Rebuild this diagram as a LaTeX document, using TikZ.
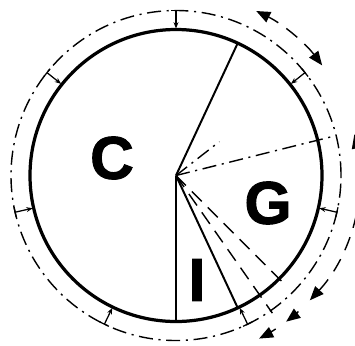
\documentclass[tikz,border=0pt]{standalone}
\usepackage{fontspec}
\setmainfont{Liberation Sans}
\newfontfamily\heavyfont{Liberation Sans Bold}[FakeBold=1.6]
\usetikzlibrary{arrows.meta, calc}

\begin{document}
\begin{tikzpicture}[
        x=0.025cm, y=0.025cm,
        rim/.style={line width=2.3pt},
        share/.style={line width=1.4pt},
        guide/.style={line width=1pt, dash pattern=on 10pt off 6pt},
        guidedot/.style={line width=1pt, dash pattern=on 10pt off 4pt on 1.5pt off 4pt},
        marker/.style={line width=0.9pt, -{Stealth[length=4.5pt,width=3.5pt]}},
        swing/.style={line width=1pt, dash pattern=on 10pt off 7pt},
        tip/.style={-{Triangle[length=10pt,width=8pt]}},
        bothtips/.style={{Triangle[length=10pt,width=8pt]}-{Triangle[length=10pt,width=8pt]}},
        letter/.style={font=\heavyfont\fontsize{43}{45}\selectfont, inner sep=0pt}
    ]
        \clip (-176,-169.5) rectangle (179,175.5);
        \coordinate (O) at (0,0);

        % outer ring and the pie
        \draw[guidedot] (O) circle (165);
        \draw[rim] (O) circle (146);
        \draw[share] (O) -- (65:146);
        \draw[share] (O) -- (-90:146);
        \draw[share] (O) -- (-65:146);

        % shifted boundaries
        \draw[guidedot] (O) -- (38:55);
        \draw[guidedot] (O) -- (14:162);
        \draw[guide] (O) -- (-45:155);
        \draw[guide] (O) -- (-55:168);

        % markers between the two rings
        \foreach \k in {0,...,6} {
            \pgfmathsetmacro{\ang}{90+\k*360/7}
            \draw[marker] (\ang:165) -- (\ang:147);
            \draw[line width=0.9pt] ($(\ang:165)+(\ang+90:5)$) -- ($(\ang:165)+(\ang-90:5)$);
        }

        % swings of the boundaries
        \draw[swing, bothtips] (37:183) arc[start angle=37, end angle=64, radius=183];
        \draw[swing, bothtips] (-43:183) arc[start angle=-43, end angle=13, radius=183];
        \draw[swing, tip] (-48:183) arc[start angle=-48, end angle=-53, radius=183];
        \draw[swing, tip] (-57:183) arc[start angle=-57, end angle=-63, radius=183];

        \node[letter] (c) at (-64,17.5) {C};
        \node[letter] (g) at (92,-27.5) {G};
        \node[letter] (i) at (21,-104.5) {I};
    \end{tikzpicture}
\end{document}
